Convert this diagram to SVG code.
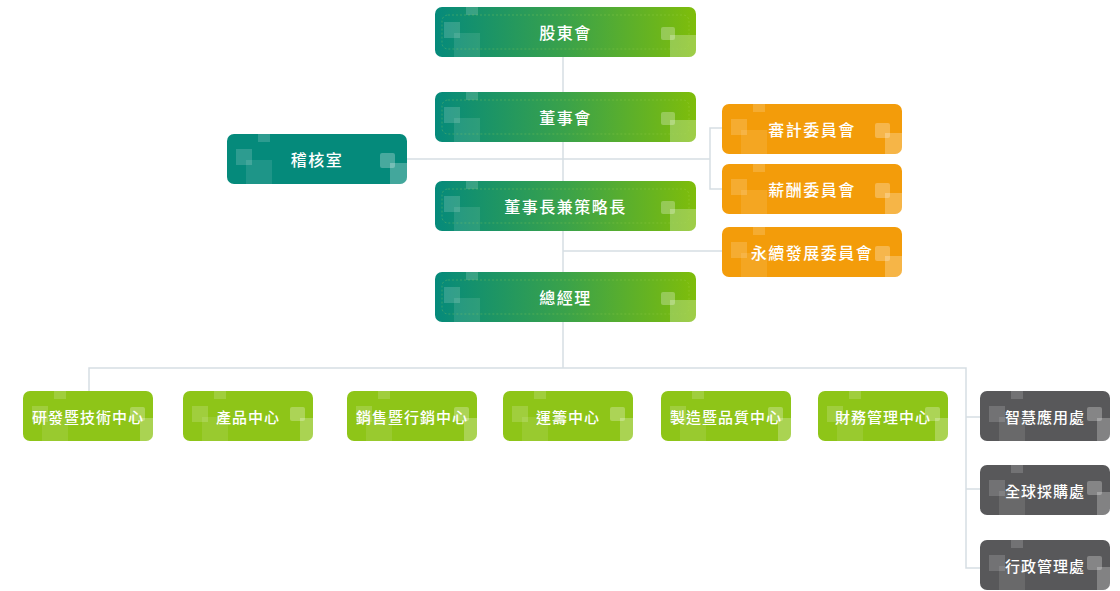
<svg xmlns="http://www.w3.org/2000/svg" xmlns:xlink="http://www.w3.org/1999/xlink" width="1120" height="591" viewBox="0 0 1120 591">
<style>
.lbl{font-family:"Noto Sans CJK TC","Noto Sans CJK SC",sans-serif;font-size:16px;font-weight:500;fill:#ffffff;text-anchor:middle;dominant-baseline:central;letter-spacing:1.5px}
.lbl.s{font-size:15px;letter-spacing:1px}
.conn{stroke:#d6dee3;stroke-width:1.5;fill:none}
.sq1{fill:#ffffff;opacity:0.16}
.sq2{fill:#ffffff;opacity:0.1}
.sq3{fill:#ffffff;opacity:0.27}
.sq4{fill:#ffffff;opacity:0.25}
.inner{fill:none;stroke:#a9d85a;stroke-opacity:0.4;stroke-width:0.7;stroke-dasharray:2 2}
</style>
<defs>
<linearGradient id="gmain" x1="0" y1="0" x2="1" y2="0">
<stop offset="0" stop-color="#058a7b"/>
<stop offset="0.5" stop-color="#3aa24a"/>
<stop offset="1" stop-color="#7fbd0a"/>
</linearGradient>
<clipPath id="cW"><rect x="0" y="0" width="261" height="50" rx="7"/></clipPath>
<clipPath id="cM"><rect x="0" y="0" width="180" height="50" rx="7"/></clipPath>
<clipPath id="cS"><rect x="0" y="0" width="130" height="50" rx="7"/></clipPath>
<g id="decL">
<rect class="sq1" x="31" y="0" width="12" height="8"/>
<rect class="sq1" x="9" y="15" width="16" height="16"/>
<rect class="sq2" x="19" y="26" width="26" height="24"/>
</g>
<g id="decRW">
<rect class="sq3" x="-35" y="20" width="14" height="13" rx="2"/>
<rect class="sq4" x="-26" y="28" width="26" height="22"/>
</g>
<g id="decRM">
<rect class="sq3" x="-27" y="19" width="15" height="15" rx="2"/>
<rect class="sq4" x="-17" y="29" width="17" height="21"/>
</g>
<g id="decRS">
<rect class="sq3" x="-23" y="16" width="15" height="14" rx="2"/>
<rect class="sq4" x="-13" y="27" width="13" height="23"/>
</g>
</defs>
<rect x="0" y="0" width="1120" height="591" fill="#ffffff"/>

<g id="connectors">
<line class="conn" x1="563" y1="57" x2="563" y2="368"/>
<line class="conn" x1="407" y1="159" x2="710" y2="159"/>
<polyline class="conn" points="722,128 710,128 710,189 722,189"/>
<line class="conn" x1="563" y1="251" x2="722" y2="251"/>
<polyline class="conn" points="89,391 89,368 966,368 966,568 980,568"/>
<line class="conn" x1="966" y1="417" x2="980" y2="417"/>
<line class="conn" x1="966" y1="489" x2="980" y2="489"/>
</g>

<g id="n-shareholders" transform="translate(435,7)">
<g clip-path="url(#cW)"><rect width="261" height="50" fill="url(#gmain)"/><use href="#decL"/><use href="#decRW" x="261"/></g>
<rect class="inner" x="7" y="8" width="247" height="34" rx="6"/>
<text class="lbl" x="130.5" y="25">股東會</text>
</g>
<g id="n-board" transform="translate(435,92)">
<g clip-path="url(#cW)"><rect width="261" height="50" fill="url(#gmain)"/><use href="#decL"/><use href="#decRW" x="261"/></g>
<rect class="inner" x="7" y="8" width="247" height="34" rx="6"/>
<text class="lbl" x="130.5" y="25">董事會</text>
</g>
<g id="n-chairman" transform="translate(435,181)">
<g clip-path="url(#cW)"><rect width="261" height="50" fill="url(#gmain)"/><use href="#decL"/><use href="#decRW" x="261"/></g>
<rect class="inner" x="7" y="8" width="247" height="34" rx="6"/>
<text class="lbl" x="130.5" y="25">董事長兼策略長</text>
</g>
<g id="n-gm" transform="translate(435,272)">
<g clip-path="url(#cW)"><rect width="261" height="50" fill="url(#gmain)"/><use href="#decL"/><use href="#decRW" x="261"/></g>
<rect class="inner" x="7" y="8" width="247" height="34" rx="6"/>
<text class="lbl" x="130.5" y="25">總經理</text>
</g>

<g id="n-audit-office" transform="translate(227,134)">
<g clip-path="url(#cM)"><rect width="180" height="50" fill="#058a7b"/><use href="#decL"/><use href="#decRM" x="180"/></g>
<text class="lbl" x="90" y="25">稽核室</text>
</g>

<g id="n-audit-comm" transform="translate(722,104)">
<g clip-path="url(#cM)"><rect width="180" height="50" fill="#f39c0a"/><use href="#decL"/><use href="#decRM" x="180"/></g>
<text class="lbl" x="90" y="25">審計委員會</text>
</g>
<g id="n-comp-comm" transform="translate(722,164)">
<g clip-path="url(#cM)"><rect width="180" height="50" fill="#f39c0a"/><use href="#decL"/><use href="#decRM" x="180"/></g>
<text class="lbl" x="90" y="25">薪酬委員會</text>
</g>
<g id="n-esg-comm" transform="translate(722,227)">
<g clip-path="url(#cM)"><rect width="180" height="50" fill="#f39c0a"/><use href="#decL"/><use href="#decRM" x="180"/></g>
<text class="lbl" x="90" y="25">永續發展委員會</text>
</g>

<g id="n-rd" transform="translate(23,391)">
<g clip-path="url(#cS)"><rect width="130" height="50" fill="#8ec518"/><use href="#decL"/><use href="#decRS" x="130"/></g>
<text class="lbl s" x="65" y="25">研發暨技術中心</text>
</g>
<g id="n-product" transform="translate(183,391)">
<g clip-path="url(#cS)"><rect width="130" height="50" fill="#8ec518"/><use href="#decL"/><use href="#decRS" x="130"/></g>
<text class="lbl s" x="65" y="25">產品中心</text>
</g>
<g id="n-sales" transform="translate(347,391)">
<g clip-path="url(#cS)"><rect width="130" height="50" fill="#8ec518"/><use href="#decL"/><use href="#decRS" x="130"/></g>
<text class="lbl s" x="65" y="25">銷售暨行銷中心</text>
</g>
<g id="n-logistics" transform="translate(503,391)">
<g clip-path="url(#cS)"><rect width="130" height="50" fill="#8ec518"/><use href="#decL"/><use href="#decRS" x="130"/></g>
<text class="lbl s" x="65" y="25">運籌中心</text>
</g>
<g id="n-mfg" transform="translate(661,391)">
<g clip-path="url(#cS)"><rect width="130" height="50" fill="#8ec518"/><use href="#decL"/><use href="#decRS" x="130"/></g>
<text class="lbl s" x="65" y="25">製造暨品質中心</text>
</g>
<g id="n-finance" transform="translate(818,391)">
<g clip-path="url(#cS)"><rect width="130" height="50" fill="#8ec518"/><use href="#decL"/><use href="#decRS" x="130"/></g>
<text class="lbl s" x="65" y="25">財務管理中心</text>
</g>

<g id="n-smart" transform="translate(980,391)">
<g clip-path="url(#cS)"><rect width="130" height="50" fill="#58585a"/><use href="#decL"/><use href="#decRS" x="130"/></g>
<text class="lbl s" x="65" y="25">智慧應用處</text>
</g>
<g id="n-procure" transform="translate(980,465)">
<g clip-path="url(#cS)"><rect width="130" height="50" fill="#58585a"/><use href="#decL"/><use href="#decRS" x="130"/></g>
<text class="lbl s" x="65" y="25">全球採購處</text>
</g>
<g id="n-admin" transform="translate(980,540)">
<g clip-path="url(#cS)"><rect width="130" height="50" fill="#58585a"/><use href="#decL"/><use href="#decRS" x="130"/></g>
<text class="lbl s" x="65" y="25">行政管理處</text>
</g>
</svg>
